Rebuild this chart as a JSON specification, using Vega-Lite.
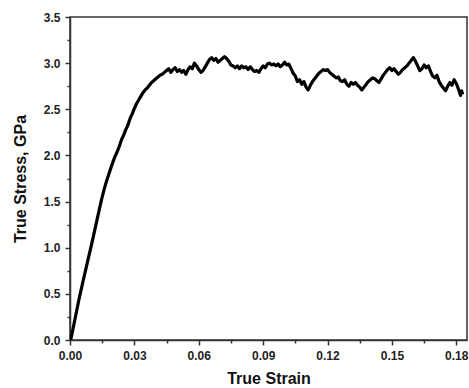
{
  "$schema": "https://vega.github.io/schema/vega-lite/v6.json",
  "autosize": {"type": "none"},
  "padding": {"left": 70, "top": 17, "right": 2, "bottom": 48},
  "width": 397,
  "height": 323,
  "background": "white",
  "config": {
    "view": {"stroke": "#333", "strokeWidth": 1.5},
    "axis": {
      "labelFont": "Liberation Sans", "labelFontWeight": "bold", "labelFontSize": 12, "labelColor": "#222",
      "titleFont": "Liberation Sans", "titleFontWeight": "bold", "titleFontSize": 16, "titleColor": "#111",
      "domainColor": "#333", "domainWidth": 1.5, "tickColor": "#333", "tickWidth": 1.5,
      "grid": false, "labelOverlap": false, "labelFlush": false
    }
  },
  "data": {"values": [
    {"strain": 0.0000, "stress": 0.00}, {"strain": 0.0005, "stress": 0.02}, {"strain": 0.002, "stress": 0.19},
    {"strain": 0.004, "stress": 0.42}, {"strain": 0.006, "stress": 0.63}, {"strain": 0.008, "stress": 0.83},
    {"strain": 0.010, "stress": 1.03}, {"strain": 0.012, "stress": 1.24}, {"strain": 0.014, "stress": 1.45},
    {"strain": 0.015, "stress": 1.55}, {"strain": 0.016, "stress": 1.64}, {"strain": 0.017, "stress": 1.72},
    {"strain": 0.018, "stress": 1.79}, {"strain": 0.019, "stress": 1.86}, {"strain": 0.020, "stress": 1.93},
    {"strain": 0.021, "stress": 1.99}, {"strain": 0.022, "stress": 2.04}, {"strain": 0.023, "stress": 2.10},
    {"strain": 0.024, "stress": 2.17}, {"strain": 0.025, "stress": 2.22}, {"strain": 0.026, "stress": 2.28},
    {"strain": 0.027, "stress": 2.33}, {"strain": 0.028, "stress": 2.40}, {"strain": 0.029, "stress": 2.45},
    {"strain": 0.030, "stress": 2.51}, {"strain": 0.031, "stress": 2.56}, {"strain": 0.032, "stress": 2.60},
    {"strain": 0.033, "stress": 2.64}, {"strain": 0.034, "stress": 2.68}, {"strain": 0.035, "stress": 2.71},
    {"strain": 0.036, "stress": 2.73}, {"strain": 0.037, "stress": 2.76}, {"strain": 0.038, "stress": 2.79},
    {"strain": 0.039, "stress": 2.81}, {"strain": 0.040, "stress": 2.83}, {"strain": 0.041, "stress": 2.85},
    {"strain": 0.042, "stress": 2.87}, {"strain": 0.043, "stress": 2.88}, {"strain": 0.044, "stress": 2.90},
    {"strain": 0.045, "stress": 2.92}, {"strain": 0.046, "stress": 2.94}, {"strain": 0.047, "stress": 2.90},
    {"strain": 0.048, "stress": 2.93}, {"strain": 0.049, "stress": 2.95}, {"strain": 0.050, "stress": 2.91},
    {"strain": 0.051, "stress": 2.93}, {"strain": 0.052, "stress": 2.90}, {"strain": 0.053, "stress": 2.92},
    {"strain": 0.054, "stress": 2.88}, {"strain": 0.055, "stress": 2.93}, {"strain": 0.056, "stress": 2.96},
    {"strain": 0.057, "stress": 2.94}, {"strain": 0.058, "stress": 3.00}, {"strain": 0.059, "stress": 2.97},
    {"strain": 0.060, "stress": 2.93}, {"strain": 0.061, "stress": 2.90}, {"strain": 0.062, "stress": 2.92},
    {"strain": 0.063, "stress": 2.96}, {"strain": 0.064, "stress": 3.00}, {"strain": 0.065, "stress": 3.04},
    {"strain": 0.066, "stress": 3.06}, {"strain": 0.067, "stress": 3.03}, {"strain": 0.068, "stress": 3.05},
    {"strain": 0.069, "stress": 3.01}, {"strain": 0.070, "stress": 3.03}, {"strain": 0.071, "stress": 3.05},
    {"strain": 0.072, "stress": 3.07}, {"strain": 0.073, "stress": 3.05}, {"strain": 0.074, "stress": 3.02},
    {"strain": 0.075, "stress": 2.98}, {"strain": 0.076, "stress": 2.97}, {"strain": 0.077, "stress": 2.95},
    {"strain": 0.078, "stress": 2.97}, {"strain": 0.079, "stress": 2.94}, {"strain": 0.080, "stress": 2.97},
    {"strain": 0.081, "stress": 2.95}, {"strain": 0.082, "stress": 2.96}, {"strain": 0.083, "stress": 2.93},
    {"strain": 0.084, "stress": 2.96}, {"strain": 0.085, "stress": 2.93}, {"strain": 0.086, "stress": 2.91},
    {"strain": 0.087, "stress": 2.92}, {"strain": 0.088, "stress": 2.90}, {"strain": 0.089, "stress": 2.94},
    {"strain": 0.090, "stress": 2.97}, {"strain": 0.091, "stress": 2.95}, {"strain": 0.092, "stress": 2.99},
    {"strain": 0.093, "stress": 3.00}, {"strain": 0.094, "stress": 2.98}, {"strain": 0.095, "stress": 2.99},
    {"strain": 0.096, "stress": 2.97}, {"strain": 0.097, "stress": 2.99}, {"strain": 0.098, "stress": 2.96},
    {"strain": 0.099, "stress": 2.98}, {"strain": 0.100, "stress": 3.01}, {"strain": 0.101, "stress": 2.98},
    {"strain": 0.102, "stress": 2.99}, {"strain": 0.103, "stress": 2.94}, {"strain": 0.104, "stress": 2.89},
    {"strain": 0.105, "stress": 2.86}, {"strain": 0.106, "stress": 2.80}, {"strain": 0.107, "stress": 2.82},
    {"strain": 0.108, "stress": 2.77}, {"strain": 0.109, "stress": 2.80}, {"strain": 0.110, "stress": 2.74},
    {"strain": 0.111, "stress": 2.71}, {"strain": 0.112, "stress": 2.76}, {"strain": 0.113, "stress": 2.80},
    {"strain": 0.114, "stress": 2.83}, {"strain": 0.115, "stress": 2.86}, {"strain": 0.116, "stress": 2.89},
    {"strain": 0.117, "stress": 2.91}, {"strain": 0.118, "stress": 2.93}, {"strain": 0.119, "stress": 2.92},
    {"strain": 0.120, "stress": 2.93}, {"strain": 0.121, "stress": 2.90}, {"strain": 0.122, "stress": 2.88},
    {"strain": 0.123, "stress": 2.86}, {"strain": 0.124, "stress": 2.84}, {"strain": 0.125, "stress": 2.85},
    {"strain": 0.126, "stress": 2.81}, {"strain": 0.127, "stress": 2.80}, {"strain": 0.128, "stress": 2.82},
    {"strain": 0.129, "stress": 2.77}, {"strain": 0.130, "stress": 2.75}, {"strain": 0.131, "stress": 2.79},
    {"strain": 0.132, "stress": 2.77}, {"strain": 0.133, "stress": 2.79}, {"strain": 0.134, "stress": 2.76},
    {"strain": 0.135, "stress": 2.74}, {"strain": 0.136, "stress": 2.71}, {"strain": 0.137, "stress": 2.74},
    {"strain": 0.138, "stress": 2.77}, {"strain": 0.139, "stress": 2.80}, {"strain": 0.140, "stress": 2.82},
    {"strain": 0.141, "stress": 2.84}, {"strain": 0.142, "stress": 2.83}, {"strain": 0.143, "stress": 2.81},
    {"strain": 0.144, "stress": 2.79}, {"strain": 0.145, "stress": 2.83}, {"strain": 0.146, "stress": 2.87},
    {"strain": 0.147, "stress": 2.90}, {"strain": 0.148, "stress": 2.93}, {"strain": 0.149, "stress": 2.95},
    {"strain": 0.150, "stress": 2.92}, {"strain": 0.151, "stress": 2.94}, {"strain": 0.152, "stress": 2.91},
    {"strain": 0.153, "stress": 2.88}, {"strain": 0.154, "stress": 2.90}, {"strain": 0.155, "stress": 2.93},
    {"strain": 0.156, "stress": 2.95}, {"strain": 0.157, "stress": 2.97}, {"strain": 0.158, "stress": 3.00},
    {"strain": 0.159, "stress": 3.03}, {"strain": 0.160, "stress": 3.06}, {"strain": 0.161, "stress": 3.02},
    {"strain": 0.162, "stress": 2.97}, {"strain": 0.163, "stress": 2.92}, {"strain": 0.164, "stress": 2.94},
    {"strain": 0.165, "stress": 2.98}, {"strain": 0.166, "stress": 2.95}, {"strain": 0.167, "stress": 2.97},
    {"strain": 0.168, "stress": 2.91}, {"strain": 0.169, "stress": 2.86}, {"strain": 0.170, "stress": 2.84},
    {"strain": 0.171, "stress": 2.87}, {"strain": 0.172, "stress": 2.80}, {"strain": 0.173, "stress": 2.76},
    {"strain": 0.174, "stress": 2.73}, {"strain": 0.175, "stress": 2.70}, {"strain": 0.176, "stress": 2.75},
    {"strain": 0.177, "stress": 2.79}, {"strain": 0.178, "stress": 2.76}, {"strain": 0.179, "stress": 2.82},
    {"strain": 0.180, "stress": 2.78}, {"strain": 0.181, "stress": 2.72}, {"strain": 0.182, "stress": 2.65},
    {"strain": 0.1825, "stress": 2.70}, {"strain": 0.183, "stress": 2.66}
  ]},
  "mark": {"type": "line", "color": "#000", "strokeWidth": 3.2, "strokeJoin": "round", "clip": true},
  "encoding": {
    "x": {
      "field": "strain", "type": "quantitative",
      "scale": {"domain": [0, 0.185], "nice": false, "zero": false},
      "axis": {
        "title": "True Strain", "titlePadding": 9,
        "values": [0, 0.015, 0.03, 0.045, 0.06, 0.075, 0.09, 0.105, 0.12, 0.135, 0.15, 0.165, 0.18],
        "labelExpr": "round(datum.value/0.015)%2==0 ? format(datum.value, '.2f') : ''",
        "tickSize": {"condition": {"test": "round(datum.value/0.015)%2==1", "value": 3}, "value": 5},
        "labelPadding": 5
      }
    },
    "y": {
      "field": "stress", "type": "quantitative",
      "scale": {"domain": [0, 3.5], "nice": false},
      "axis": {
        "title": "True Stress, GPa", "titlePadding": 15,
        "values": [0, 0.25, 0.5, 0.75, 1, 1.25, 1.5, 1.75, 2, 2.25, 2.5, 2.75, 3, 3.25, 3.5],
        "labelExpr": "round(datum.value*4)%2==0 ? format(datum.value, '.1f') : ''",
        "tickSize": {"condition": {"test": "round(datum.value*4)%2==1", "value": 3}, "value": 5},
        "labelPadding": 5
      }
    }
  }
}
